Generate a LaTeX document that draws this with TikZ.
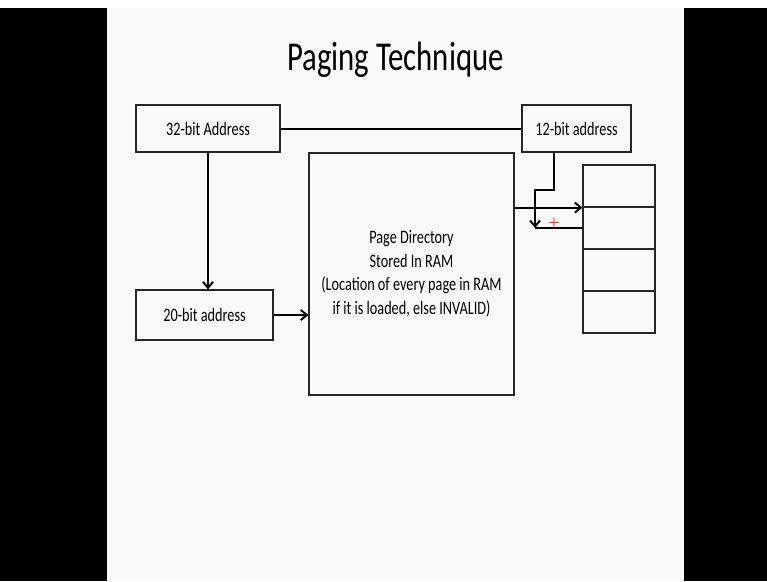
\documentclass[tikz,border=0pt]{standalone}
\usepackage{fontspec}
\newfontfamily\slidefont{Carlito}[FakeStretch=0.75]
\usetikzlibrary{arrows.meta}
\definecolor{slide}{RGB}{249,250,248}

\begin{document}
\begin{tikzpicture}[x=1pt,y=-1pt]
	\tikzstyle{box}=[draw=black!85,line width=1.2pt,inner sep=0pt,text=black,font=\slidefont\fontsize{19}{23.5}\selectfont]
	\tikzstyle{cell}=[draw=black!85,line width=1.2pt,inner sep=0pt,minimum width=72pt,minimum height=42pt]
	\tikzstyle{link}=[line width=2pt]
	\tikzstyle{pointer}=[line width=2pt,-{Straight Barb[length=6pt,width=10pt]}]

	\fill[white] (0,0) rectangle (767,581);
	\fill[black] (0,8) rectangle (107,581);
	\fill[black] (684,8) rectangle (767,581);
	\fill[slide] (107,8) rectangle (684,581);

	\node[anchor=base,text=black,font=\slidefont\fontsize{41}{49}\selectfont] (title) at (395.5,70) {Paging Technique};

	\node[box,minimum width=144pt,minimum height=47pt] (addr32) at (208,128.5) {32-bit Address};
	\node[box,minimum width=137pt,minimum height=50pt] (addr20) at (204.5,315) {20-bit address};
	\node[box,minimum width=109pt,minimum height=47pt] (addr12) at (576.5,128.5) {12-bit address};
	\node[box,minimum width=205pt,minimum height=242pt,align=center] (pagedir) at (411.5,274)
		{Page Directory\\Stored In RAM\\(Location of every page in RAM\\if it is loaded, else INVALID)};

	\foreach \i in {1,...,4}
		\node[cell] (row\i) at (619,144+42*\i) {};

	\coordinate (drop) at (554,190);
	\coordinate (turn) at (535,190);
	\coordinate (offset) at (535,228);

	\draw[link] (addr32.east) -- (addr12.west);
	\draw[pointer] (addr32.south) -- (addr32.south |- addr20.north);
	\draw[pointer] (addr20.east) -- (pagedir.west |- addr20.east);
	\draw[pointer] (pagedir.east |- row1.south) -- (row1.south west);
	\draw[pointer] (addr12.south -| drop) -- (drop) -- (turn) -- (offset);
	\draw[link] (row2.west) -- (offset);

	\node[text=red,inner sep=0pt,font=\bfseries\fontsize{14}{14}\selectfont] (cursor) at (554,223) {+};
\end{tikzpicture}
\end{document}
